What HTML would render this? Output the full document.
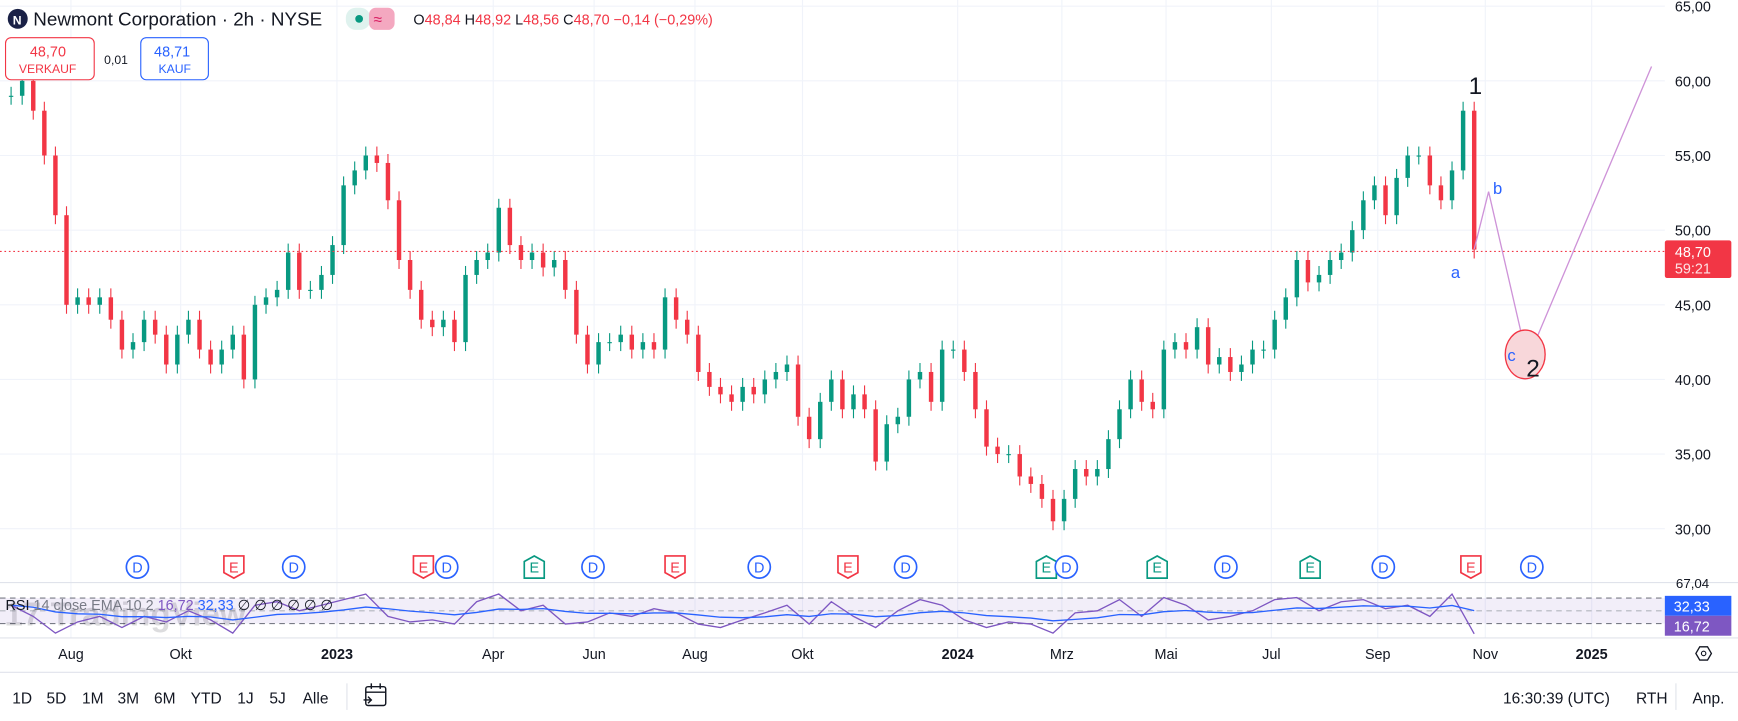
<!DOCTYPE html>
<html><head><meta charset="utf-8"><style>
html,body{margin:0;padding:0;background:#fff;overflow:hidden}
svg{display:block;font-family:"Liberation Sans",sans-serif}
</style></head><body>
<svg id="c" width="1738" height="721" viewBox="0 0 1568 651" preserveAspectRatio="none" xmlns="http://www.w3.org/2000/svg">
<rect width="1568" height="651" fill="#fff"/>
<g id="grid"></g>
<g id="candles"></g>
<line x1="0" y1="227" x2="1502" y2="227" stroke="#f23645" stroke-dasharray="1.5,2.5" stroke-width="1"/>
<g id="axis"></g>
<text x="1325" y="85" font-size="22" fill="#131722">1</text>
<polyline points="1330,225 1343,173 1378,325 1490,60" fill="none" stroke="#ce93d8" stroke-width="1.2"/>
<text x="1347" y="175" font-size="15" fill="#2962ff">b</text>
<text x="1309" y="251" font-size="15" fill="#2962ff">a</text>
<ellipse cx="1376" cy="320" rx="18" ry="22" fill="#f8d7da" stroke="#f23645" stroke-width="1.2"/>
<text x="1360" y="326" font-size="15" fill="#2962ff">c</text>
<text x="1377" y="340" font-size="22" fill="#131722">2</text>
<g id="events"></g>
<line x1="0" y1="526" x2="1568" y2="526" stroke="#e0e3eb"/>
<rect x="0" y="540" width="1502" height="23" fill="#7e57c2" fill-opacity="0.1"/>
<line x1="0" y1="540" x2="1502" y2="540" stroke="#787b86" stroke-dasharray="5,4"/>
<line x1="0" y1="551.5" x2="1502" y2="551.5" stroke="#b2b5be" stroke-dasharray="5,4"/>
<line x1="0" y1="563" x2="1502" y2="563" stroke="#787b86" stroke-dasharray="5,4"/>
<text x="4" y="565" font-size="30" font-weight="bold" fill="#131722" fill-opacity="0.15">17 TradingView</text>
<g id="rsi"></g>
<text x="5" y="551" font-size="13" fill="#131722">RSI <tspan fill="#787b86">14 close EMA 10 2</tspan> <tspan fill="#7e57c2">16,72</tspan> <tspan fill="#2962ff">32,33</tspan> <tspan fill="#131722">∅ ∅ ∅ ∅ ∅ ∅</tspan></text>
<text x="1512" y="531" font-size="12" fill="#131722">67,04</text>
<rect x="1502" y="538" width="60" height="18" fill="#2962ff"/>
<text x="1510" y="552" font-size="13" fill="#fff">32,33</text>
<rect x="1502" y="556" width="60" height="18" fill="#7e57c2"/>
<text x="1510" y="570" font-size="13" fill="#fff">16,72</text>
<rect x="1502" y="217" width="60" height="34" rx="2" fill="#f23645"/>
<text x="1511" y="232" font-size="13" fill="#fff">48,70</text>
<text x="1511" y="247" font-size="13" fill="#fff" fill-opacity="0.85">59:21</text>
<line x1="0" y1="576" x2="1568" y2="576" stroke="#e0e3eb"/>
<g id="taxis" font-size="13" fill="#131722"></g>
<g><polygon points="1530,590 1533.5,584 1540.5,584 1544,590 1540.5,596 1533.5,596" fill="none" stroke="#131722" stroke-width="1.2"/><circle cx="1537" cy="590" r="2" fill="none" stroke="#131722"/></g>
<line x1="0" y1="607" x2="1568" y2="607" stroke="#e0e3eb"/>
<circle cx="16" cy="17" r="9" fill="#1a2146"/>
<text x="11.5" y="22" font-size="11" font-weight="bold" fill="#fff">N</text>
<text x="30" y="23" font-size="17" fill="#131722">Newmont Corporation · 2h · NYSE</text>
<rect x="312" y="7" width="22" height="20" rx="9" fill="#dff2ee"/>
<circle cx="324" cy="17" r="3.5" fill="#089981"/>
<rect x="333" y="7" width="23" height="20" rx="6" fill="#f4a8c0"/>
<text x="337" y="22" font-size="14" fill="#d81b60">≈</text>
<text x="373" y="22" font-size="13" fill="#131722">O<tspan fill="#f23645">48,84</tspan> H<tspan fill="#f23645">48,92</tspan> L<tspan fill="#f23645">48,56</tspan> C<tspan fill="#f23645">48,70 −0,14 (−0,29%)</tspan></text>
<rect x="5" y="34" width="80" height="38" rx="5" fill="#fff" stroke="#f23645"/>
<text x="27" y="51" font-size="13" fill="#f23645">48,70</text>
<text x="17" y="66" font-size="11" fill="#f23645">VERKAUF</text>
<text x="94" y="58" font-size="11" fill="#131722">0,01</text>
<rect x="127" y="34" width="61" height="38" rx="5" fill="#fff" stroke="#2962ff"/>
<text x="139" y="51" font-size="13" fill="#2962ff">48,71</text>
<text x="143" y="66" font-size="11" fill="#2962ff">KAUF</text>
<g id="tb" font-size="14" fill="#131722"></g>
<line x1="313" y1="617" x2="313" y2="641" stroke="#e0e3eb"/>
<g fill="none" stroke="#131722" stroke-width="1.3"><rect x="330" y="620" width="18" height="17" rx="2"/><line x1="330" y1="625" x2="348" y2="625"/><line x1="335" y1="617" x2="335" y2="622"/><line x1="343" y1="617" x2="343" y2="622"/><path d="M328 632 h7 m-3 -3 l3 3 l-3 3"/></g>
<text x="1356" y="635" font-size="14" fill="#131722">16:30:39 (UTC)</text>
<text x="1476" y="635" font-size="14" fill="#131722">RTH</text>
<line x1="1512" y1="617" x2="1512" y2="641" stroke="#e0e3eb"/>
<text x="1527" y="635" font-size="14" fill="#131722">Anp.</text>
</svg>
<script>
const closes=[59,60,58,55,51,45,45.5,45,45.5,44,42,42.5,44,43,41,43,44,42,41,42,43,40,45,45.5,46,48.5,46,46,47,49,53,54,55,54.5,52,48,46,44,43.5,44,42.5,47,48,48.5,51.5,49,48,48.5,47.5,48,46,43,41,42.5,42.5,43,42,42.5,42,45.5,44,43,40.5,39.5,39,38.5,39.5,39,40,40.5,41,37.5,36,38.5,40,38,39,38,34.5,37,37.5,40,40.5,38.5,42,42,40.5,38,35.5,35,35,33.5,33,32,30.5,32,34,33.5,34,36,38,40,38.5,38,42,42.5,42,43.5,41,41.5,40.5,41,42,42,44,45.5,48,46.5,47,48,48.5,50,52,53,51,53.5,55,55,53,52,54,58,48.7];
const rsiVals=[58,42,18,34,42,26,42,34,50,37,18,58,63,50,58,66,74,42,34,37,31,63,74,50,58,31,34,47,42,53,47,31,26,37,47,58,31,63,42,26,50,66,58,37,26,34,31,18,47,50,66,42,69,58,37,42,50,66,69,50,63,66,53,58,42,74,17];
const priceTicks=[65,60,55,50,45,40,35,30];
const priceTickLabels=["65,00","60,00","55,00","50,00","45,00","40,00","35,00","30,00"];
const timeLabels=["Aug","Okt","2023","Apr","Jun","Aug","Okt","2024","Mrz","Mai","Jul","Sep","Nov","2025"];
const timePos=[64,163,304,445,536,627,724,864,958,1052,1147,1243,1340,1436];
const eventTypes=["D","E","D","E","D","E","D","E","D","E","D","E","D","E","D","E","D","E","D"];
const eventX=[124,211,265,382,403,482,535,609,685,765,817,944,962,1044,1106,1182,1248,1327,1382];
const eventColor=["b","r","b","r","b","g","b","r","b","r","b","g","b","g","b","g","b","r","b"];
const tbLabels=["1D","5D","1M","3M","6M","YTD","1J","5J","Alle"];
const tbX=[11,42,74,106,139,172,214,243,273];

const NS="http://www.w3.org/2000/svg";
function mk(t,a,p){const e=document.createElementNS(NS,t);for(const k in a)e.setAttribute(k,a[k]);p.appendChild(e);return e;}
const yP=p=>73+(60-p)*13.48;
const xI=i=>10+i*10;
const yR=r=>551.5-(r-50)*0.63;
const xR=i=>10+i*20;
const grid=document.getElementById('grid');
priceTicks.forEach((p,i)=>{const l=mk('line',{x1:0,x2:1502,y1:yP(p),y2:yP(p),stroke:'#f0f3fa'},grid);


const t=mk('text',{x:1511,y:yP(p)+5,'font-size':13,fill:'#131722'},document.getElementById('axis'));t.textContent=priceTickLabels[i];

});
timePos.forEach((x,i)=>{const l=mk('line',{x1:x,x2:x,y1:0,y2:576,stroke:'#f0f3fa'},grid);


const b=/^\d{4}$/.test(timeLabels[i]);
const t=mk('text',{x:x,y:595,'text-anchor':'middle','font-weight':b?'bold':'normal'},document.getElementById('taxis'));t.textContent=timeLabels[i];

});
const cg=document.getElementById('candles');
closes.forEach((c,i)=>{const o=i?closes[i-1]:c;const up=c>=o;const col=up?'#089981':'#f23645';
const hi=Math.max(o,c)+0.6,lo=Math.min(o,c)-0.6;const x=xI(i);
const w=mk('line',{x1:x,x2:x,y1:yP(hi),y2:yP(lo),stroke:col,'stroke-width':1},cg);


const r=mk('rect',{x:x-2,y:yP(Math.max(o,c)),width:4,height:Math.max(1,Math.abs(yP(o)-yP(c))),fill:col},cg);

});
const eg=document.getElementById('events');
const cols={b:'#2962ff',r:'#f23645',g:'#089981'};
eventTypes.forEach((t,i)=>{const x=eventX[i],y=512,c=cols[eventColor[i]];let s;
if(t==='D'){s=mk('circle',{cx:x,cy:y,r:10,fill:'#fff',stroke:c,'stroke-width':1.5},eg);}
else if(eventColor[i]==='r'){s=mk('path',{d:`M${x-9} ${y-10}H${x+9}V${y+5}L${x} ${y+10}L${x-9} ${y+5}Z`,fill:'#fff',stroke:c,'stroke-width':1.5},eg);}
else{s=mk('path',{d:`M${x-9} ${y+10}H${x+9}V${y-5}L${x} ${y-10}L${x-9} ${y-5}Z`,fill:'#fff',stroke:c,'stroke-width':1.5},eg);}


const tx=mk('text',{x:x,y:y+5,'text-anchor':'middle','font-size':13,fill:c},eg);tx.textContent=t;});
const rg=document.getElementById('rsi');
const ema=[];let k=2/11;rsiVals.forEach((v,i)=>ema.push(i?ema[i-1]+k*(v-ema[i-1]):v));
const rl=mk('polyline',{points:rsiVals.map((v,i)=>xR(i)+','+yR(v)).join(' '),fill:'none',stroke:'#7e57c2','stroke-width':1.2},rg);


const el=mk('polyline',{points:ema.map((v,i)=>xR(i)+','+yR(v)).join(' '),fill:'none',stroke:'#2962ff','stroke-width':1.2},rg);


const tb=document.getElementById('tb');
tbLabels.forEach((l,i)=>{const t=mk('text',{x:tbX[i],y:635},tb);t.textContent=l;

});
</script>
</body></html>
